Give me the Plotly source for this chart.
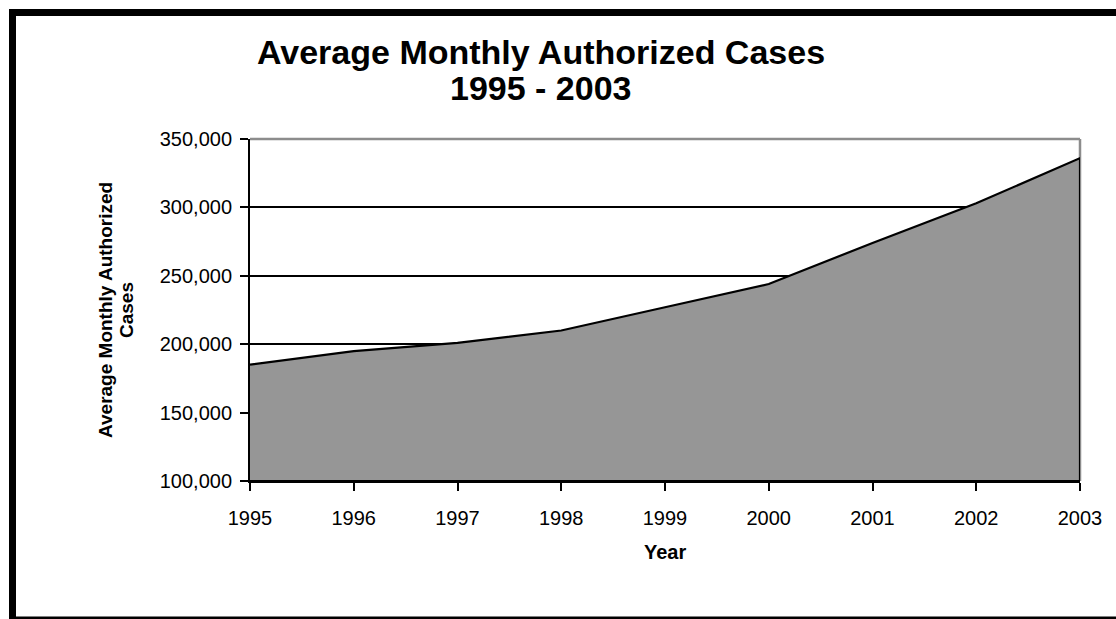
import plotly.graph_objects as go

years = [1995, 1996, 1997, 1998, 1999, 2000, 2001, 2002, 2003]
cases = [185000, 195000, 201000, 210000, 227000, 244000, 274000, 303000, 336000]
Y_MIN, Y_MAX = 100000, 350000
y_ticks = [100000, 150000, 200000, 250000, 300000, 350000]

W, H = 1116, 619
L, R, T, B = 250, 1080, 139, 481
PW, PH = R - L, B - T

def xp(px):
    return (px - L) / PW

def yp(py):
    return (B - py) / PH

FONT = "Liberation Sans, Arial, sans-serif"

# closed polygon so the outline includes the right vertical edge
xs = years + [years[-1], years[0]]
ys = cases + [Y_MIN, Y_MIN]

fig = go.Figure()
fig.add_trace(go.Scatter(
    x=xs, y=ys, mode="lines", fill="toself",
    fillcolor="#969696", line=dict(color="black", width=2.2),
    hoverinfo="skip", showlegend=False,
))

fig.update_layout(
    width=W, height=H,
    margin=dict(l=L, r=W - R, t=T, b=H - B, pad=0),
    paper_bgcolor="white", plot_bgcolor="white",
    font=dict(family=FONT, color="black", size=20),
    hovermode=False,
    xaxis=dict(
        range=[years[0], years[-1]], tickvals=years, ticktext=[str(y) for y in years],
        showgrid=False, zeroline=False, showline=True, linecolor="black", linewidth=2,
        ticks="outside", ticklen=8, tickwidth=2, tickcolor="black",
        tickfont=dict(size=20, family=FONT), ticklabelstandoff=10,
    ),
    yaxis=dict(
        range=[Y_MIN, Y_MAX], tickvals=y_ticks, tickformat=",",
        showgrid=True, gridcolor="black", gridwidth=2, zeroline=False,
        showline=True, linecolor="black", linewidth=2,
        ticks="outside", ticklen=8, tickwidth=2, tickcolor="black",
        tickfont=dict(size=20, family=FONT), ticklabelstandoff=4,
    ),
)

shapes = [
    # gray plot-area border (top and right)
    dict(type="line", xref="paper", yref="paper", x0=0, x1=1, y0=1, y1=1,
         line=dict(color="#8c8c8c", width=2.5), layer="between"),
    dict(type="line", xref="paper", yref="paper", x0=1, x1=1, y0=0, y1=1,
         line=dict(color="#8c8c8c", width=2.5), layer="between"),
    # outer chart frame
    dict(type="rect", xref="paper", yref="paper", x0=xp(9), x1=xp(16), y0=yp(625), y1=yp(9),
         fillcolor="black", line=dict(width=0), layer="above"),
    dict(type="rect", xref="paper", yref="paper", x0=xp(9), x1=xp(1125), y0=yp(16), y1=yp(9),
         fillcolor="black", line=dict(width=0), layer="above"),
    dict(type="rect", xref="paper", yref="paper", x0=xp(9), x1=xp(1125), y0=yp(619), y1=yp(616.5),
         fillcolor="black", line=dict(width=0), layer="above"),
]
fig.update_layout(shapes=shapes)

ann = [
    dict(text="<b>Average Monthly Authorized Cases</b>", x=xp(541), y=yp(52), size=34),
    dict(text="<b>1995 - 2003</b>", x=xp(541), y=yp(88), size=34),
    dict(text="<b>Year</b>", x=xp(665), y=yp(552), size=20),
]
annotations = []
for a in ann:
    annotations.append(dict(text=a["text"], xref="paper", yref="paper", x=a["x"], y=a["y"],
                            xanchor="center", yanchor="middle", showarrow=False,
                            font=dict(size=a["size"], family=FONT, color="black")))
annotations.append(dict(text="<b>Average Monthly Authorized</b>", xref="paper", yref="paper",
                        x=xp(105), y=yp(310), xanchor="center", yanchor="middle", textangle=-90,
                        showarrow=False, font=dict(size=19, family=FONT, color="black")))
annotations.append(dict(text="<b>Cases</b>", xref="paper", yref="paper",
                        x=xp(126), y=yp(310), xanchor="center", yanchor="middle", textangle=-90,
                        showarrow=False, font=dict(size=19, family=FONT, color="black")))
fig.update_layout(annotations=annotations)

fig.write_html("out.html", config={"displayModeBar": False},
               post_script="document.body.style.margin='0';document.body.style.overflow='hidden';")
